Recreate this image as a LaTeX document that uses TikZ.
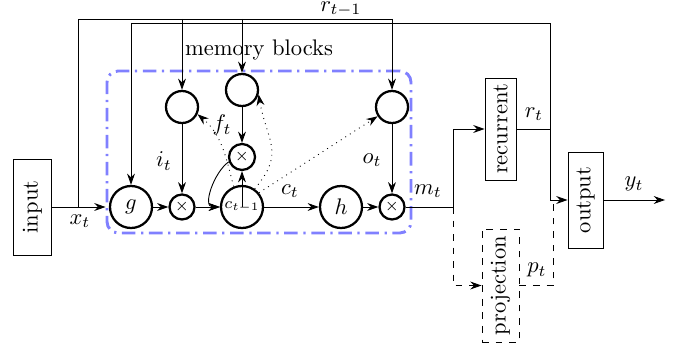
\documentclass[tikz,border=0pt]{standalone}
\usepackage{graphicx}
\usetikzlibrary{arrows.meta}
\def\pxu{0.0156cm}
\begin{document}
\begin{tikzpicture}[x=0.0156cm, y=-0.0156cm, >={Stealth[length=5pt,width=3.5pt]},
  gate/.style={circle, draw, line width=1pt, minimum size=32*\pxu, inner sep=0pt},
  mult/.style={circle, draw, line width=1pt, minimum size=25*\pxu, inner sep=0pt, font=\scriptsize},
  big/.style={circle, draw, line width=1pt, minimum size=42*\pxu, inner sep=0pt},
  box/.style={draw, inner sep=0pt},
  lbl/.style={inner sep=0pt},
  peep/.style={dotted, ->}]
\useasboundingbox (0,0) rectangle (689,350);
% memory block frame
\node[draw=blue!50, line width=1.3pt, dash pattern=on 6pt off 2.5pt on 1pt off 2.5pt,
      rounded corners=5pt, minimum width=304*\pxu, minimum height=162*\pxu, inner sep=0pt]
      (mb) at (259,152) {};
% nodes
\node[box, minimum width=38*\pxu, minimum height=96*\pxu] (input) at (32.5,207) {\rotatebox{90}{input}};
\node[big] (g) at (131,207) {$g$};
\node[mult] (m1) at (182,207) {$\times$};
\node[big, font=\scriptsize] (c) at (242,207) {$c_{t-1}$};
\node[big] (h) at (341,207) {$h$};
\node[mult] (m3) at (392,207) {$\times$};
\node[gate] (ig) at (182,107) {};
\node[gate] (fg) at (242,90) {};
\node[mult, minimum size=26*\pxu] (m2) at (242,157) {$\times$};
\node[gate] (og) at (392,107) {};
\node[box, minimum width=31*\pxu, minimum height=102*\pxu] (rec) at (500.5,129) {\rotatebox{90}{recurrent}};
\node[box, minimum width=35*\pxu, minimum height=96*\pxu] (out) at (585.5,200) {\rotatebox{90}{output}};
\node[box, dashed, minimum width=37*\pxu, minimum height=113*\pxu] (proj) at (500.5,285.5) {\rotatebox{90}{projection}};
% helper coordinates
\coordinate (sx) at (78,207);
\coordinate (tx) at (78,19);
\coordinate (rr) at (550,129);
\coordinate (rtop) at (550,23);
\coordinate (mj) at (453,207);
\coordinate (pt) at (553,200);
\coordinate (yend) at (665,200);
% input path
\draw[->] (input.east) -- (input.east -| mb.west);
\draw (sx) -- (tx) -- (tx -| og);
\draw[->] (tx -| og) -- (og);
\draw[->] (tx -| ig) -- (ig);
\draw[->] (tx -| fg) -- (fg);
% recurrent path
\draw (rec.east) -- (rr) -- (rtop) -- (rtop -| g);
\draw[->] (rtop -| g) -- (g);
% cell chain
\draw[->] (g) -- (m1);
\draw[->] (m1) -- (c);
\draw[->] (c) -- (h);
\draw[->] (h) -- (m3);
\draw[->] (ig) -- (m1);
\draw[->] (fg) -- (m2);
\draw[->] (og) -- (m3);
\draw[->] (c.center) -- (m2);
\draw[->] (m2.200) to[out=215,in=180] (c.west);
% peepholes
\draw[peep] (c.112) to[out=105,in=-40] (ig.-25);
\draw[peep] (c.55) to[out=50,in=-80,looseness=1.3] (fg.-15);
\draw[peep] (c.40) -- (og);
% output side
\draw (m3) -- (mj);
\draw[->] (mj) |- (rec.west);
\draw[->, dashed] (mj) |- (proj.west);
\draw[->] (rr) |- (out.west);
\draw[dashed] (proj.east) -| (pt);
\draw[->] (out.east) -- (yend);
% labels
\node at (259,50) {memory blocks};
\node[anchor=base] at (341,11.5) {$r_{t-1}$};
\node at (222,125) {$f_t$};
\node at (164,161) {$i_t$};
\node at (372,160) {$o_t$};
\node at (290,191) {$c_t$};
\node at (80,221) {$x_t$};
\node at (428,191) {$m_t$};
\node at (534,114) {$r_t$};
\node at (634,184) {$y_t$};
\node at (537,270) {$p_t$};
\end{tikzpicture}
\end{document}
